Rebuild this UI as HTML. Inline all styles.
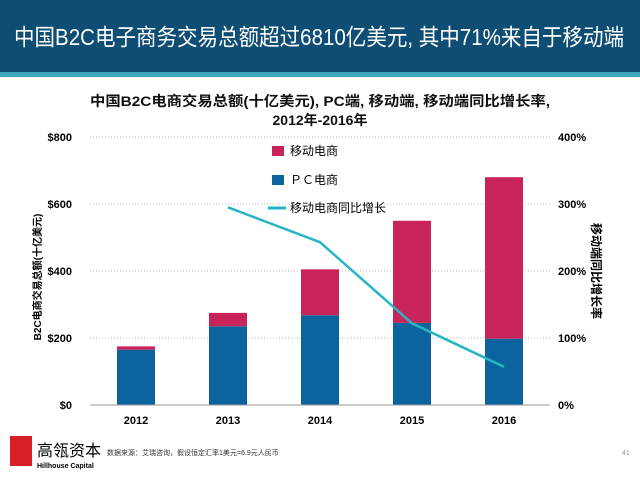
<!DOCTYPE html>
<html><head><meta charset="utf-8"><style>
body{margin:0;width:640px;height:480px;overflow:hidden;background:#fff;font-family:"Liberation Sans","Noto Sans CJK SC",sans-serif}
</style></head><body>
<div style="position:absolute;left:0;top:0;width:640px;height:72px;background:#0e4d74"></div>
<div style="position:absolute;left:0;top:72px;width:640px;height:5px;background:#3aa7bd"></div>
<svg id="c" width="640" height="480" style="position:absolute;left:0;top:0">
<text x="14" y="45" font-size="23" fill="#fff" textLength="610" lengthAdjust="spacingAndGlyphs">中国B2C电子商务交易总额超过6810亿美元, 其中71%来自于移动端</text>
<text x="320" y="106" text-anchor="middle" font-size="14" font-weight="bold" fill="#111" textLength="460" lengthAdjust="spacingAndGlyphs">中国B2C电商交易总额(十亿美元), PC端, 移动端, 移动端同比增长率,</text>
<text x="320" y="125" text-anchor="middle" font-size="14" font-weight="bold" fill="#111">2012年-2016年</text>
<text transform="translate(41,277) rotate(-90)" text-anchor="middle" font-size="10" font-weight="bold">B2C电商交易总额(十亿美元)</text>
<text transform="translate(592,271) rotate(90)" text-anchor="middle" font-size="12" font-weight="bold">移动端同比增长率</text>
<g id="g"></g>
<rect x="272" y="146" width="12" height="10" fill="#c8245a"/>
<text x="290" y="155" font-size="12">移动电商</text>
<rect x="272" y="175" width="12" height="10" fill="#0b649e"/>
<text x="290" y="184" font-size="12">ＰＣ电商</text>
<line x1="268" y1="208" x2="286" y2="208" stroke="#26b5c4" stroke-width="3"/>
<text x="290" y="212" font-size="12">移动电商同比增长</text>
<rect x="10" y="436" width="22" height="30" fill="#d81f26"/>
<text x="37" y="456" font-size="16">高瓴资本</text>
<text x="37" y="468" font-size="7" font-weight="bold">Hillhouse Capital</text>
<text x="107" y="455" font-size="7" fill="#333">数据来源：艾瑞咨询，假设恒定汇率1美元=6.9元人民币</text>
<text x="622" y="455" font-size="7" fill="#999">41</text>
</svg>
<script>
const years=["2012","2013","2014","2015","2016"];
const pc=[165,235,268,245,198];
const mobile=[10,40,137,305,482];
const growth=[null,295,243,122,57];
const yTicks=[0,200,400,600,800];
const y2Ticks=[0,100,200,300,400];
const g=document.getElementById('g');const NS='http://www.w3.org/2000/svg';
const X0=90,X1=550,Y0=405,Y1=137;
const y=v=>Y0-(v/800)*(Y0-Y1);
const y2=v=>Y0-(v/400)*(Y0-Y1);
const bw=(X1-X0)/years.length;
const x=i=>X0+bw*(i+0.5);
function mk(t,a){const e=document.createElementNS(NS,t);for(const k in a)e.setAttribute(k,a[k]);g.appendChild(e);return e;}
yTicks.forEach((v,i)=>{
 if(v>0){const l=mk('line',{x1:X0,x2:X1,y1:y(v),y2:y(v),stroke:'#bbb','stroke-dasharray':'1,2'});
 
 }
 const t=mk('text',{x:72,y:y(v)+4,'text-anchor':'end','font-size':11,'font-weight':'bold'});t.textContent='$'+v;
 
 
});
y2Ticks.forEach(v=>{const t=mk('text',{x:558,y:y2(v)+4,'font-size':11,'font-weight':'bold'});t.textContent=v+'%';
 
 });
years.forEach((yr,i)=>{
 const w=38;
 const b=mk('rect',{x:x(i)-w/2,y:y(pc[i]),width:w,height:Y0-y(pc[i]),fill:'#0b649e'});
 
 
 const m=mk('rect',{x:x(i)-w/2,y:y(pc[i]+mobile[i]),width:w,height:y(pc[i])-y(pc[i]+mobile[i]),fill:'#c8245a'});
 
 
 const t=mk('text',{x:x(i),y:424,'text-anchor':'middle','font-size':11,'font-weight':'bold'});t.textContent=yr;
 
 
});
const ax=mk('line',{x1:X0,x2:X1,y1:Y0,y2:Y0,stroke:'#999'});


const pts=growth.map((v,i)=>v==null?null:x(i)+','+y2(v)).filter(p=>p).join(' ');
const pl=mk('polyline',{points:pts,fill:'none',stroke:'#26b5c4','stroke-width':2.5});


</script>
</body></html>
